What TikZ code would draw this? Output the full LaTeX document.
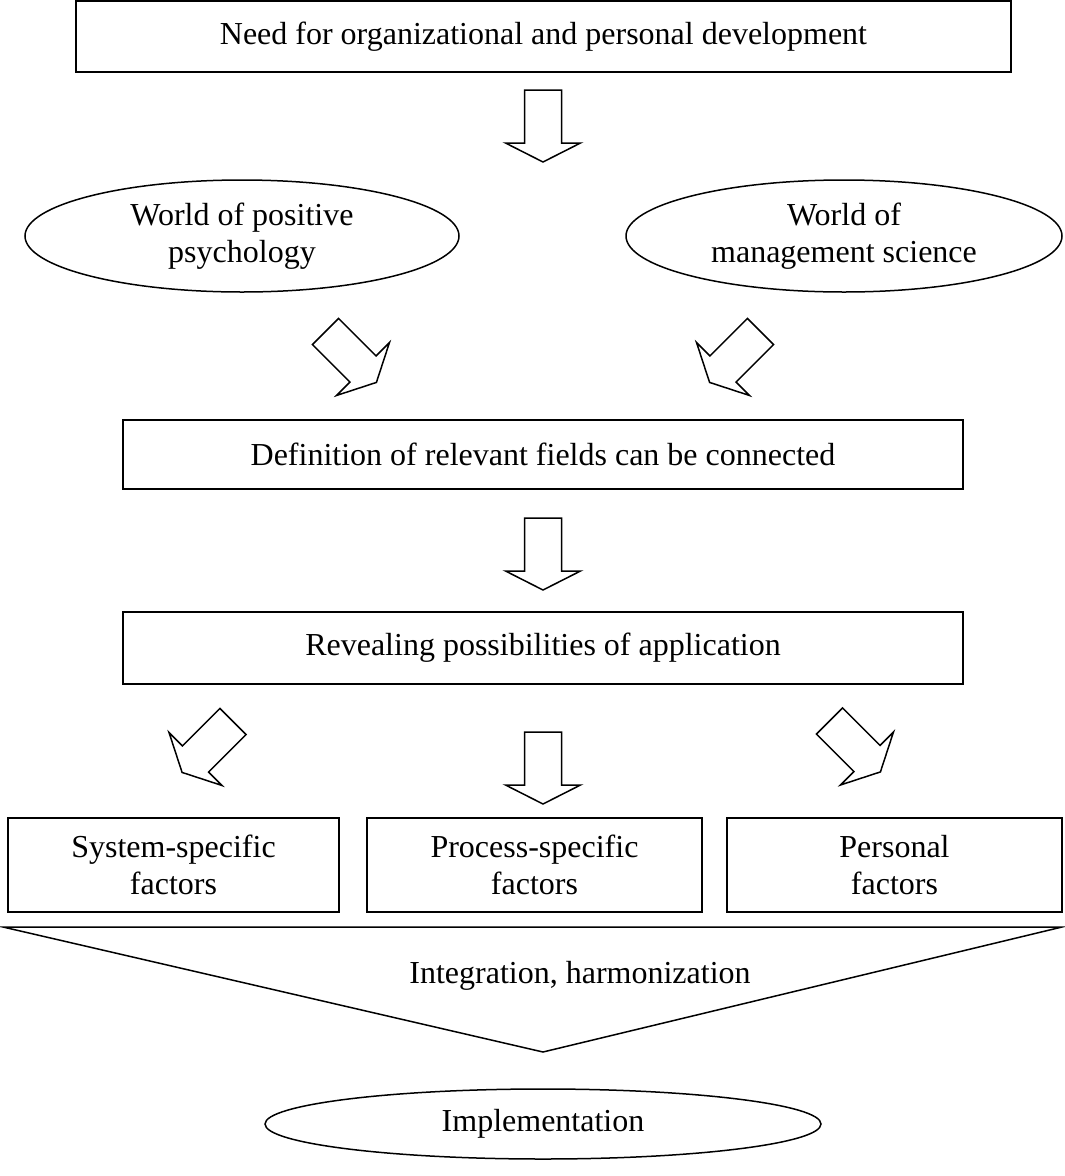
\documentclass[tikz,border=0pt]{standalone}
\usepackage{fontspec}
\setmainfont{Liberation Serif}
\usetikzlibrary{shapes.geometric}

\tikzset{
  box/.style={draw, rectangle, inner sep=0pt, align=center},
  oval/.style={draw, ellipse, inner sep=0pt, align=center},
}
% hollow block arrow: tail centre x, y, turn
\newcommand{\fatarrow}[3]{%
  \begin{scope}[shift={(#1,#2)}, rotate=#3]
    \draw (-18.5,0) -- (18.5,0) -- (18.5,53) -- (37.5,53) -- (0,72)
      -- (-37.5,53) -- (-18.5,53) -- cycle;
  \end{scope}}

\begin{document}
\begin{tikzpicture}[x=1pt, y=-1pt, line width=1.5pt, line join=miter,
    font=\fontsize{32}{37}\selectfont]
  \useasboundingbox (0,0) rectangle (1065,1176);

  \node[box, minimum width=935, minimum height=71] (need) at (543.5,36.5)
    {Need for organizational and personal development};
  \fatarrow{543}{90}{0}

  \node[oval, minimum width=434, minimum height=112] (posPsy) at (242,236)
    {World of positive\\psychology};
  \node[oval, minimum width=436, minimum height=112] (mgmtSci) at (844,236)
    {World of\\management science};
  \fatarrow{325.5}{331.5}{45}
  \fatarrow{760.5}{331.5}{-45}

  \node[box, minimum width=840, minimum height=69] (defin) at (543,454.5)
    {Definition of relevant fields can be connected};
  \fatarrow{543}{518}{0}

  \node[box, minimum width=840, minimum height=72] (reveal) at (543,648)
    {Revealing possibilities of application};
  \fatarrow{233}{721.5}{-45}
  \fatarrow{543}{732}{0}
  \fatarrow{829.5}{721}{45}

  \node[box, minimum width=331, minimum height=94] (sysF) at (173.5,865)
    {System-specific\\factors};
  \node[box, minimum width=335, minimum height=94] (procF) at (534.5,865)
    {Process-specific\\factors};
  \node[box, minimum width=335, minimum height=94] (persF) at (894.5,865)
    {Personal\\factors};

  % funnel
  \draw (3,927) -- (1062,927) -- (543,1052) -- cycle;
  \node (integ) at (580,976) {Integration, harmonization};

  \node[oval, minimum width=556, minimum height=70] (impl) at (543,1124)
    {Implementation};
\end{tikzpicture}
\end{document}
